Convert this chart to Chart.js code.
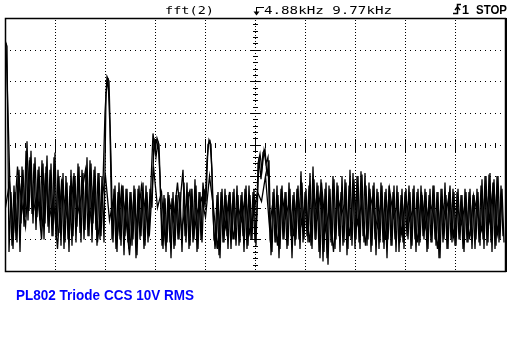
<!DOCTYPE html>
<html>
<head>
<meta charset="utf-8">
<script src="https://cdn.jsdelivr.net/npm/chart.js@4.4.0/dist/chart.umd.min.js"></script>
<style>
  html, body { margin: 0; padding: 0; background: #fff; }
  canvas { display: block; }
</style>
</head>
<body>
<canvas id="scope" width="522" height="360"></canvas>
<script>
// scope settings
var spanKHz = 9.77;
var headerFunc = 'fft(2)';
var headerFreq = '4.88kHz 9.77kHz';
var headerRun = 'STOP';
var headerChan = '1';
var caption = 'PL802 Triode CCS 10V RMS';
var dbTop = 0;
var dbBottom = -80;

// fft magnitude (dB), sweep 1, one reading every 1/250 of the span
var sweepA = [
  -7, -9, -74, -55, -73, -55, -71, -48, -65, -48, -63, -39, -61, -42, -65, -44, -63, -47, -67, -46, -65, -43.5, -68, -46, -69,
  -42.5, -69, -50, -72, -49, -71, -52, -74, -48, -69, -50, -66, -47, -71, -49, -67, -44, -69, -46, -65, -47, -72, -49, -69, -52,
  -30, -18.5, -20, -45, -71, -53, -74, -52, -72, -53, -69, -54, -73, -55, -70, -54, -75, -53, -69, -52, -72, -55, -69, -52, -36.5,
  -42, -38, -40, -60, -73, -57, -71, -56, -76, -55, -72, -56, -70, -55, -48, -69, -52, -73, -54, -71, -51, -74, -55, -70, -52,
  -60, -45, -38.5, -40, -62, -73, -56, -75, -55, -71, -54, -69, -56, -73, -55, -70, -53, -72, -56, -69, -54, -73, -53, -70, -55,
  -71, -62, -44, -51, -42.5, -41.5, -50, -45, -75, -55, -71, -53, -76, -54, -70, -55, -73, -52, -69, -56, -72, -54, -70, -48.5, -71,
  -55, -69, -53, -72, -47, -70, -52, -74, -51, -77, -54, -76, -53, -71, -50, -73, -52, -69, -55, -72, -51, -75, -53, -70, -49,
  -73, -50, -71, -48.5, -69, -49, -72, -52, -74, -53, -70, -54, -73, -52, -71, -55, -76, -53, -72, -55, -70, -53, -74, -56, -71,
  -55, -69, -53, -73, -54, -70, -55, -72, -53, -69, -54, -74, -56, -71, -53, -70, -55, -76, -54, -71, -52, -73, -55, -70, -54,
  -72, -55, -70, -56, -73, -54, -71, -55, -69, -56, -73, -54, -71, -53, -70, -50, -72, -49.5, -71, -52, -73, -50, -71, -53, -69
];

// sweep 2, half a bin later (persistence display)
var sweepB = [
  -8, -30, -54, -72, -53, -70, -50, -74, -47, -66, -42, -64, -44, -62, -46, -67, -48, -64, -45, -70, -47, -66, -48, -69, -44,
  -70, -48, -68, -51, -73, -50, -70, -53, -72, -49, -71, -46, -68, -48, -70, -50, -69, -45, -71, -48, -67, -49, -70, -50, -71,
  -24, -19, -35, -70, -54, -73, -55, -70, -53, -75, -54, -71, -55, -72, -53, -76, -54, -70, -55, -73, -53, -71, -54, -60, -38,
  -44, -39, -50, -72, -56, -74, -55, -71, -57, -73, -56, -70, -55, -74, -52, -71, -55, -72, -54, -70, -53, -73, -55, -71, -54,
  -58, -40, -39, -48, -70, -72, -55, -76, -54, -71, -56, -73, -55, -70, -54, -72, -56, -71, -55, -74, -53, -72, -56, -70, -54,
  -72, -46, -43, -48, -42, -46, -44, -70, -74, -54, -71, -56, -73, -53, -70, -55, -72, -54, -76, -55, -70, -53, -73, -52, -70,
  -54, -71, -49, -73, -51, -70, -53, -76, -55, -74, -52, -78, -54, -72, -51, -70, -53, -74, -50, -71, -52, -73, -48, -72, -51,
  -70, -50, -73, -49.5, -71, -53, -70, -54, -72, -52, -75, -55, -71, -53, -73, -54, -70, -56, -72, -53, -74, -55, -71, -54, -73,
  -54, -70, -55, -72, -53, -74, -54, -71, -56, -70, -55, -73, -54, -71, -53, -72, -55, -76, -54, -70, -56, -73, -53, -71, -55,
  -72, -54, -70, -56, -74, -55, -71, -54, -73, -56, -70, -55, -72, -51, -73, -50, -71, -49, -74, -51, -72, -50, -70, -54, -71
];

// sweep 3, coarser, one reading every 2/250 of the span
var sweepC = [
  -60, -52, -68, -47, -58, -66, -45, -61, -55, -70, -49, -63, -57, -73, -52, -60, -67, -50, -62, -56, -48, -65, -53, -71, -58,
  -50, -64, -57, -69, -54, -62, -75, -58, -66, -53, -61, -68, -47, -60, -55, -72, -58, -64, -52, -67, -60, -55, -69, -61, -57,
  -63, -50, -60, -73, -57, -66, -55, -70, -59, -64, -56, -68, -62, -55, -58, -50, -66, -57, -72, -55, -63, -58, -69, -54, -65,
  -58, -71, -55, -63, -52, -67, -60, -74, -56, -62, -58, -69, -53, -65, -59, -72, -55, -61, -66, -57, -70, -54, -63, -59, -68,
  -56, -64, -60, -71, -55, -66, -58, -62, -73, -57, -63, -55, -69, -60, -65, -58, -70, -56, -62, -67, -54, -64, -52, -68, -58
];

function toPoints(values, offset, step) {
    return values.map(function(v, i) {
        return { x: (i * step + offset) * spanKHz / 250, y: v };
    });
}

// dotted graticule like the scope screen
var scopeGrid = {
    id: 'scopeGrid',
    beforeDatasetsDraw: function(chart) {
        var ctx = chart.ctx;
        var a = chart.chartArea;
        var xs = chart.scales.x, ys = chart.scales.y;
        var left = Math.round(a.left), right = Math.round(a.right);
        var top = Math.round(a.top), bottom = Math.round(a.bottom);
        var cx = Math.round(xs.getPixelForValue(spanKHz / 2));
        var cy = Math.round(ys.getPixelForValue((dbTop + dbBottom) / 2));
        ctx.save();
        ctx.fillStyle = '#000';
        var i, p, y;
        for (i = 1; i < 10; i++) {
            var gx = Math.round(xs.getPixelForValue(i * spanKHz / 10));
            for (y = top + 2; y < bottom; y += 3) ctx.fillRect(gx, y, 1, 1);
        }
        for (i = 1; i < 8; i++) {
            var gy = Math.round(ys.getPixelForValue(dbBottom + i * 10));
            for (p = left + 5; p < right; p += 5) ctx.fillRect(p, gy, 1, 1);
        }
        // centre axes with minor ticks
        for (p = left + 10; p < right; p += 10) {
            var major = (p - left) % 50 === 0;
            ctx.fillRect(p, cy - (major ? 6 : 2), 1, major ? 13 : 5);
        }
        for (i = 1; i < 40; i++) {
            var ty = Math.round(top + i * (bottom - top) / 40);
            var maj = i % 5 === 0;
            ctx.fillRect(cx - (maj ? 5 : 2), ty, maj ? 11 : 5, 1);
        }
        ctx.restore();
    },
    afterDatasetsDraw: function(chart) {
        var ctx = chart.ctx;
        var a = chart.chartArea;
        ctx.save();
        ctx.strokeStyle = '#000';
        ctx.lineWidth = 1.5;
        ctx.strokeRect(Math.round(a.left) + 0.5, Math.round(a.top) + 0.5,
            Math.round(a.right - a.left), Math.round(a.bottom - a.top));
        ctx.fillStyle = '#000';
        ctx.fillRect(Math.round(a.right), Math.round(a.top), 2, Math.round(a.bottom - a.top) + 1);
        ctx.restore();
    }
};

function stretchText(ctx, text, x, baseline, width, font) {
    ctx.font = font;
    var w = ctx.measureText(text).width;
    ctx.save();
    ctx.translate(x, baseline);
    ctx.scale(width / w, 1);
    ctx.fillText(text, 0, 0);
    ctx.restore();
}

var scopeText = {
    id: 'scopeText',
    afterDraw: function(chart) {
        var ctx = chart.ctx;
        ctx.save();
        ctx.fillStyle = '#000';
        ctx.textBaseline = 'alphabetic';
        stretchText(ctx, headerFunc, 165, 14, 49, '10px "DejaVu Sans Mono"');
        // marker symbol before the centre frequency
        ctx.fillRect(256, 7, 8, 1);
        ctx.fillRect(256, 7, 1, 7);
        ctx.beginPath();
        ctx.moveTo(253.5, 11.5); ctx.lineTo(259.5, 11.5); ctx.lineTo(256.5, 15.5); ctx.closePath();
        ctx.fill();
        stretchText(ctx, headerFreq, 264, 14, 128, '10px "DejaVu Sans Mono"');
        // rising edge trigger symbol
        ctx.strokeStyle = '#000';
        ctx.lineWidth = 1.5;
        ctx.beginPath();
        ctx.moveTo(453, 13.5); ctx.lineTo(457.5, 13.5); ctx.lineTo(457.5, 4.5); ctx.lineTo(461, 4.5);
        ctx.stroke();
        ctx.beginPath();
        ctx.moveTo(455, 10); ctx.lineTo(457.5, 7); ctx.lineTo(460, 10);
        ctx.stroke();
        stretchText(ctx, headerChan, 462, 14, 7, 'bold 13px "Liberation Sans"');
        stretchText(ctx, headerRun, 476, 14, 31, 'bold 13px "Liberation Sans"');
        ctx.fillStyle = '#0000ff';
        ctx.font = 'bold 14px "Liberation Sans"';
        ctx.fillText(caption, 16, 300, 178);
        ctx.restore();
    }
};

var trace = { borderColor: '#000', borderWidth: 1.3, pointRadius: 0, tension: 0 };

var chart = new Chart(document.getElementById('scope').getContext('2d'), {
    type: 'line',
    data: {
        datasets: [
            Object.assign({ data: toPoints(sweepA, 0, 1) }, trace),
            Object.assign({ data: toPoints(sweepB, 0.5, 1) }, trace),
            Object.assign({ data: toPoints(sweepC, 0.25, 2), borderWidth: 1 }, trace)
        ]
    },
    options: {
        responsive: false,
        animation: false,
        events: [],
        layout: { padding: { left: 5, top: 18, right: 17, bottom: 89 } },
        scales: {
            x: { type: 'linear', min: 0, max: spanKHz, display: false },
            y: { min: dbBottom, max: dbTop, display: false }
        },
        plugins: {
            legend: { display: false },
            tooltip: { enabled: false }
        }
    },
    plugins: [scopeGrid, scopeText]
});
</script>
</body>
</html>
